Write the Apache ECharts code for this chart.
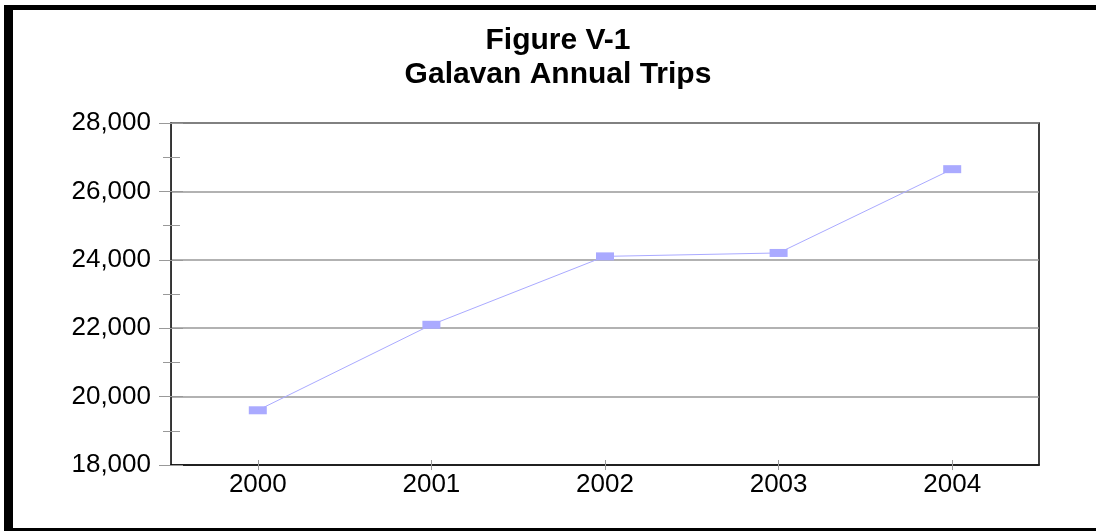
<!DOCTYPE html>
<html>
<head>
<meta charset="utf-8">
<script src="https://cdn.jsdelivr.net/npm/echarts@6/dist/echarts.min.js"></script>
<style>
html,body{margin:0;padding:0;background:#fff;}
#c{width:1096px;height:531px;}
</style>
</head>
<body>
<div id="c"></div>
<script>
const titleLines = ['Figure V-1', 'Galavan Annual Trips'];
const years = ['2000', '2001', '2002', '2003', '2004'];
const trips = [19600, 22100, 24100, 24200, 26650];
const yMin = 18000, yMax = 28000, yStep = 2000;

const chart = echarts.init(document.getElementById('c'), null, {renderer: 'canvas'});
const font = '"Liberation Sans", Arial, sans-serif';
const hidden = {show: true, lineStyle: {color: 'rgba(0,0,0,0)'}};
chart.setOption({
  animation: false,
  backgroundColor: '#fff',
  title: {
    text: titleLines.join('\n'),
    left: 553, top: 19, textAlign: 'center',
    textStyle: {fontFamily: font, fontSize: 30, fontWeight: 'bold', color: '#000', lineHeight: 34}
  },
  grid: {left: 171, top: 123, right: 57, bottom: 66, show: true, borderColor: '#000', borderWidth: 1.5, backgroundColor: 'transparent'},
  xAxis: [{
    type: 'category', data: years, boundaryGap: true,
    axisLine: {lineStyle: {color: '#000', width: 1.5}},
    axisTick: {show: true, alignWithLabel: true, length: 5, lineStyle: {color: '#999'}},
    axisLabel: {fontFamily: font, fontSize: 26, color: '#000', margin: 7},
    splitLine: {show: false}
  }, {
    type: 'category', data: years, boundaryGap: true, position: 'bottom',
    axisLine: hidden,
    axisTick: {show: true, alignWithLabel: true, inside: true, length: 5, lineStyle: {color: '#999'}},
    axisLabel: {show: false}, splitLine: {show: false}
  }],
  yAxis: [{
    type: 'value', min: yMin, max: yMax, interval: yStep,
    axisLine: {show: true, lineStyle: {color: '#333', width: 1}},
    axisTick: {show: true, length: 12, lineStyle: {color: '#999'}},
    minorTick: {show: true, splitNumber: 2, length: 8, lineStyle: {color: '#999'}},
    axisLabel: {fontFamily: font, fontSize: 26, color: '#000', margin: 20,
      formatter: v => v.toLocaleString('en-US')},
    splitLine: {show: true, lineStyle: {color: '#999', width: 1.5}}
  }, {
    type: 'value', min: yMin, max: yMax, interval: yStep, position: 'left',
    axisLine: hidden,
    axisTick: {show: true, inside: true, length: 12, lineStyle: {color: '#999'}},
    minorTick: {show: true, splitNumber: 2, length: 9, lineStyle: {color: '#999'}},
    axisLabel: {show: false}, splitLine: {show: false}
  }],
  series: [{
    type: 'line', data: trips, xAxisIndex: 0, yAxisIndex: 0,
    symbol: 'rect', symbolSize: [18, 8],
    lineStyle: {color: '#aaaaff', width: 1},
    itemStyle: {color: '#aaaaff', borderWidth: 0},
    z: 5
  }],
  graphic: [
    {type: 'rect', shape: {x: 4, y: 5, width: 1092, height: 5}, style: {fill: '#000'}, silent: true},
    {type: 'rect', shape: {x: 4, y: 5, width: 9, height: 526}, style: {fill: '#000'}, silent: true},
    {type: 'rect', shape: {x: 4, y: 528, width: 1092, height: 3}, style: {fill: '#000'}, silent: true}
  ]
});
</script>
</body>
</html>
